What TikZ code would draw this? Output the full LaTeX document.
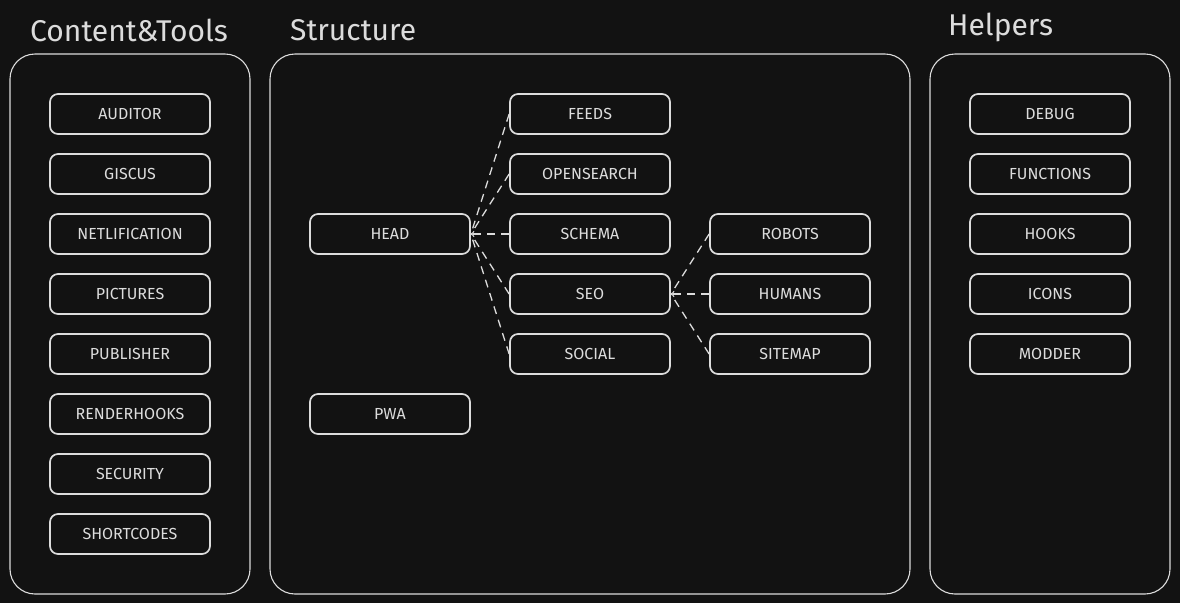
\documentclass[tikz,border=0pt]{standalone}
\usepackage{fontspec}
\setmainfont{Fira Sans}
\definecolor{bg}{HTML}{121212}
\definecolor{ink}{HTML}{DCDCDC}
\tikzset{
  item/.style = {draw = ink, line width = 1.7pt, rounded corners = 8pt,
    minimum width = 160pt, minimum height = 40pt, inner sep = 0pt,
    text = ink, font = \fontsize{16}{16}\selectfont},
  group/.style = {draw = ink, line width = 1.1pt, rounded corners = 25pt},
  title/.style = {text = ink, anchor = west, inner sep = 0pt,
    font = \fontsize{30}{30}\selectfont},
  link/.style = {draw = ink, line width = 1.3pt, dash pattern = on 8pt off 6pt}
}
\begin{document}
\begin{tikzpicture}[x = 1pt, y = -1pt]
  \fill [bg] (0,0) rectangle (1180,603);
  \useasboundingbox (0,0) rectangle (1180,603);
  % groups
  \node [title] (tools-title) at (30,30) {Content\&Tools};
  \node [title] (structure-title) at (290,30) {Structure};
  \node [title] (helpers-title) at (948,27) {Helpers};
  \draw [group] (10,54) rectangle (250,594);
  \draw [group] (270,54) rectangle (910,594);
  \draw [group] (930,54) rectangle (1170,594);
  % content & tools
  \node [item] (auditor) at (130,114) {AUDITOR};
  \node [item] (giscus) at (130,174) {GISCUS};
  \node [item] (netlification) at (130,234) {NETLIFICATION};
  \node [item] (pictures) at (130,294) {PICTURES};
  \node [item] (publisher) at (130,354) {PUBLISHER};
  \node [item] (renderhooks) at (130,414) {RENDERHOOKS};
  \node [item] (security) at (130,474) {SECURITY};
  \node [item] (shortcodes) at (130,534) {SHORTCODES};
  % structure
  \node [item] (head) at (390,234) {HEAD};
  \node [item] (pwa) at (390,414) {PWA};
  \node [item] (feeds) at (590,114) {FEEDS};
  \node [item] (opensearch) at (590,174) {OPENSEARCH};
  \node [item] (schema) at (590,234) {SCHEMA};
  \node [item] (seo) at (590,294) {SEO};
  \node [item] (social) at (590,354) {SOCIAL};
  \node [item] (robots) at (790,234) {ROBOTS};
  \node [item] (humans) at (790,294) {HUMANS};
  \node [item] (sitemap) at (790,354) {SITEMAP};
  \draw [link] (feeds.west) -- (head.east);
  \draw [link] (opensearch.west) -- (head.east);
  \draw [link, ->] (schema.west) -- (head.east);
  \draw [link] (seo.west) -- (head.east);
  \draw [link] (social.west) -- (head.east);
  \draw [link] (robots.west) -- (seo.east);
  \draw [link, ->] (humans.west) -- (seo.east);
  \draw [link] (sitemap.west) -- (seo.east);
  % helpers
  \node [item] (debug) at (1050,114) {DEBUG};
  \node [item] (functions) at (1050,174) {FUNCTIONS};
  \node [item] (hooks) at (1050,234) {HOOKS};
  \node [item] (icons) at (1050,294) {ICONS};
  \node [item] (modder) at (1050,354) {MODDER};
\end{tikzpicture}
\end{document}
